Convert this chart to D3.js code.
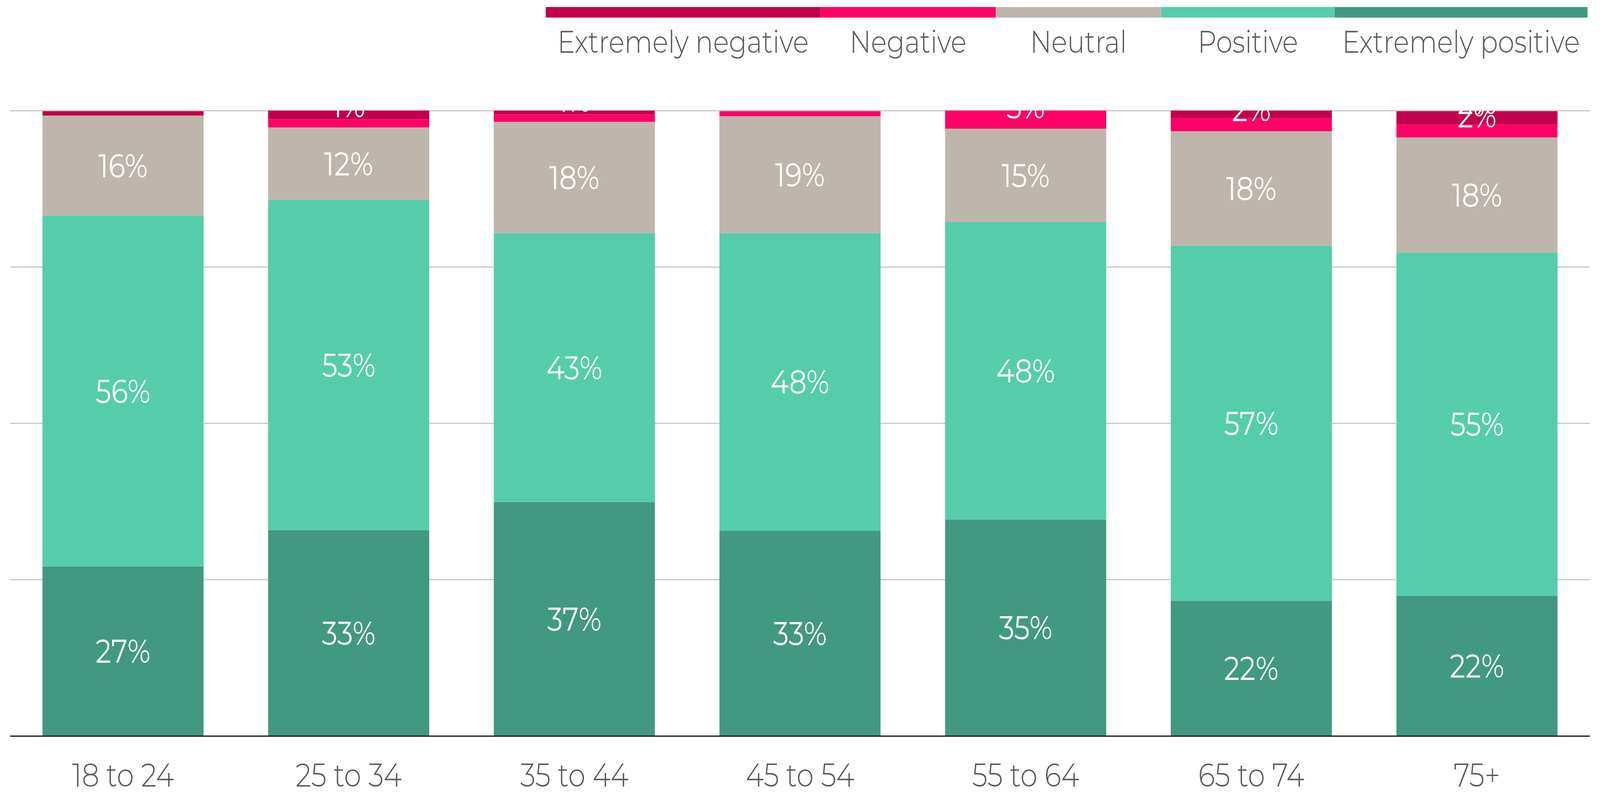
<!DOCTYPE html>
<html>
<head>
<meta charset="utf-8">
<script src="https://d3js.org/d3.v7.min.js"></script>
<style>
  html, body { margin: 0; padding: 0; background: #fff; overflow: hidden; }
  #chart svg { display: block; width: 100vw; height: 100vh; }
  svg text { font-family: "Montserrat", "Open Sans", sans-serif; }
</style>
</head>
<body>
<div id="chart"></div>
<script>
// age groups along the x axis
var categories = ["18 to 24", "25 to 34", "35 to 44", "45 to 54", "55 to 64", "65 to 74", "75+"]

// share of answers, in %, one value per age group
var extremelyPositive = [27.1, 32.9, 37.4, 32.8, 34.6, 21.6, 22.4]
var positive          = [56.1, 52.8, 43.0, 47.6, 47.6, 56.8, 54.9]
var neutral           = [16.0, 11.6, 17.8, 18.7, 14.9, 18.3, 18.4]
var negative          = [0,    1.3,  1.2,  0.8,  2.9,  2.1,  2.1]
var extremelyNegative = [0.7,  1.4,  0.6,  0,    0,    1.2,  2.1]

// legend runs left to right, the stack bottom to top
var legendNames = ["Extremely negative", "Negative", "Neutral", "Positive", "Extremely positive"]
var stackNames = ["Extremely positive", "Positive", "Neutral", "Negative", "Extremely negative"]

var gridTicks = [0, 25, 50, 75, 100]

var colors = {
  "Extremely negative": "#c0004b",
  "Negative": "#ff0066",
  "Neutral": "#beb5ac",
  "Positive": "#55cdaa",
  "Extremely positive": "#419982"
}

var width = 4864
var height = 2032
// plot box (window.top is taken, so keep these in an object)
var plot = { x0: 31, x1: 4833, y0: 283, y1: 1883 }
var capH = 60

var rows = categories.map(function(c, i) {
  return {
    age: c,
    "Extremely positive": extremelyPositive[i],
    "Positive": positive[i],
    "Neutral": neutral[i],
    "Negative": negative[i],
    "Extremely negative": extremelyNegative[i]
  }
})

// drawn in a fixed 4864x2032 box and stretched over the whole viewport
var svg = d3.select('#chart')
  .append('svg')
  .attr('viewBox', '0 0 ' + width + ' ' + height)
  .attr('preserveAspectRatio', 'none')

var x = d3.scaleBand()
  .domain(categories)
  .range([plot.x0, plot.x1])
  .paddingInner(0.286)
  .paddingOuter(0.143)

var y = d3.scaleLinear()
  .domain([0, 100])
  .range([plot.y1, plot.y0])

// grid lines behind the bars
var grid = svg.append('g')
  .attr('transform', 'translate(' + plot.x0 + ',0)')
  .call(d3.axisLeft(y).tickValues(gridTicks).tickSize(-(plot.x1 - plot.x0)).tickFormat(''))
grid.select('.domain').remove()
grid.selectAll('line').attr('stroke', '#c8c8c8').attr('stroke-width', 3)

var stacked = d3.stack().keys(stackNames)(rows)

var layers = svg.selectAll('g.layer')
  .data(stacked)
  .enter()
  .append('g')
  .attr('class', 'layer')
  .attr('fill', function(d) { return colors[d.key] })

layers.selectAll('rect')
  .data(function(d) { return d })
  .enter()
  .append('rect')
  .attr('x', function(d) { return x(d.data.age) })
  .attr('width', x.bandwidth())
  .attr('y', function(d) { return y(d[1]) })
  .attr('height', function(d) { return y(d[0]) - y(d[1]) })

// value labels, pushed up so they never hang below their segment
var labels = svg.append('g')
  .attr('fill', '#fff')
  .attr('font-size', 84)
  .attr('text-anchor', 'middle')

stacked.forEach(function(layer) {
  layer.forEach(function(d) {
    var v = d[1] - d[0]
    if (v <= 0) return
    var segTop = y(d[1]), segBottom = y(d[0])
    var base = Math.min((segTop + segBottom) / 2 + capH / 2, segBottom - 26)
    labels.append('text')
      .attr('x', x(d.data.age) + x.bandwidth() / 2)
      .attr('y', base)
      .text(Math.round(v) + '%')
  })
})

// zero line
svg.append('line')
  .attr('x1', plot.x0)
  .attr('x2', plot.x1)
  .attr('y1', y(0) + 1)
  .attr('y2', y(0) + 1)
  .attr('stroke', '#111')
  .attr('stroke-width', 3)

var xAxis = svg.append('g')
  .attr('transform', 'translate(0,' + plot.y1 + ')')
  .call(d3.axisBottom(x).tickSize(0))
xAxis.select('.domain').remove()
xAxis.selectAll('text')
  .attr('y', 130)
  .attr('dy', 0)
  .attr('fill', '#595959')
  .attr('font-size', 84)
  .attr('font-weight', 300)
  .style('font-family', '"Montserrat", "Open Sans", sans-serif')

// legend: colour strip above each name
var legendWidths = [835, 533, 503, 527, 769]
var legendLeft = 1659
var legend = svg.append('g')
var lx = legendLeft
legendNames.forEach(function(name, i) {
  var w = legendWidths[i]
  legend.append('rect')
    .attr('x', lx)
    .attr('y', 18)
    .attr('width', w)
    .attr('height', 27)
    .attr('fill', colors[name])
  legend.append('text')
    .attr('x', lx + w / 2)
    .attr('y', 135)
    .attr('text-anchor', 'middle')
    .attr('font-size', 80)
    .attr('font-weight', 300)
    .attr('fill', '#595959')
    .text(name)
  lx += w
})
</script>
</body>
</html>
